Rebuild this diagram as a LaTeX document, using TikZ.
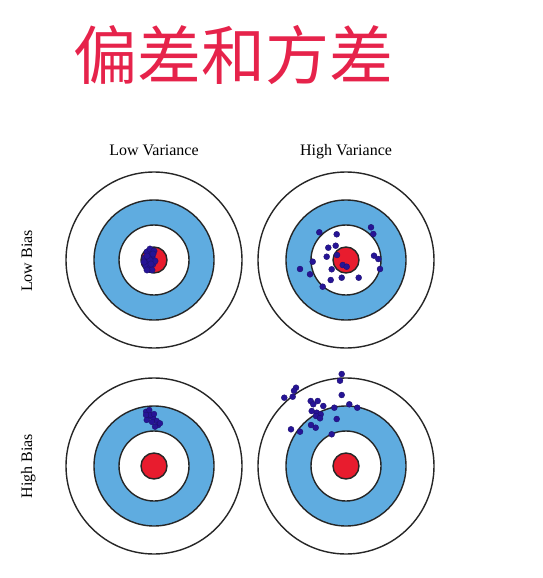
\documentclass[tikz,border=0pt]{standalone}
\usepackage{fontspec}
\setmainfont{Liberation Serif}
\newfontfamily\cjk{Noto Sans CJK SC}
\definecolor{titlered}{RGB}{230,35,75}
\definecolor{ringblue}{RGB}{95,172,224}
\definecolor{bullred}{RGB}{232,28,46}
\definecolor{shotblue}{RGB}{38,20,150}

\begin{document}
\begin{tikzpicture}[x=1pt,y=-1pt]
        \tikzstyle{heading} = [text=titlered, font=\cjk\fontsize{64}{64}\selectfont]
        \tikzstyle{axislabel} = [font=\fontsize{16}{16}\selectfont, inner sep=0pt, anchor=base]
        \tikzstyle{ring} = [draw=black!85, line width=1.4pt]
        \tikzstyle{shot} = [fill=shotblue, draw=shotblue!70!black, line width=0.3pt]

        \useasboundingbox (0,0) rectangle (542,578);

        \node (title) [heading] at (233.5,55) {偏差和方差};
        \node (lowvar) [axislabel] at (154,155) {Low Variance};
        \node (highvar) [axislabel] at (346,155) {High Variance};
        \node (lowbias) [axislabel, rotate=90] at (32,261) {Low Bias};
        \node (highbias) [axislabel, rotate=90] at (32,466) {High Bias};

        % the four targets
        \foreach \cx/\cy in {154/260, 346/260, 154/466, 346/466} {
            \draw [ring, fill=white] (\cx,\cy) circle (88pt);
            \draw [ring, fill=ringblue] (\cx,\cy) circle (60pt);
            \draw [ring, fill=white] (\cx,\cy) circle (35pt);
            \draw [ring, fill=bullred] (\cx,\cy) circle (13pt);
        }

        % low bias, low variance
        \foreach \p in {(147,252),(150,249),(145,258),(148,262),(152,257),(146,266),
                        (150,268),(153,264),(144,262),(149,256),(154,251),(152,270),
                        (147,270),(155,261),(150,260),(147,256),(151,264),(153,254)}
            \fill [shot] \p circle (3.2pt);

        % low bias, high variance
        \foreach \p in {(319.3,232.3),(336.7,234.3),(371,227.3),(373.3,234),(328.3,247.7),
                        (335.7,245.7),(326.7,256.7),(337,255),(374,255.7),(378.3,259),
                        (312.7,261.7),(300,269),(310,274.3),(331.7,269.3),(342.7,265),
                        (346.7,266.7),(380,269),(330.7,280),(341.7,277.7),(358.7,277.7),
                        (322.7,286.7)}
            \fill [shot] \p circle (3pt);

        % high bias, low variance
        \foreach \p in {(146,411.7),(148.3,416.7),(146.7,420),(153.3,418.3),(156.7,421),
                        (158.3,425),(155,426.7),(150.7,415),(149.3,410),(160,423.3),
                        (152,422),(146,415),(154,414)}
            \fill [shot] \p circle (2.9pt);

        % high bias, high variance
        \foreach \p in {(341.7,374),(340,380.7),(296,387.7),(294,390.7),(284.3,397.7),
                        (292.7,396.7),(341.7,395),(310.7,401),(317.7,401),(313.3,404.3),
                        (323.3,406),(311.7,411),(316.7,412.7),(320.7,414.3),(316,416),
                        (320,418.3),(334.3,407.7),(349.3,404.3),(357.3,407.7),(336.7,419),
                        (311,425),(315.7,427.7),(291,429.3),(300,431.7),(331.7,434.3)}
            \fill [shot] \p circle (3pt);
    \end{tikzpicture}
\end{document}
